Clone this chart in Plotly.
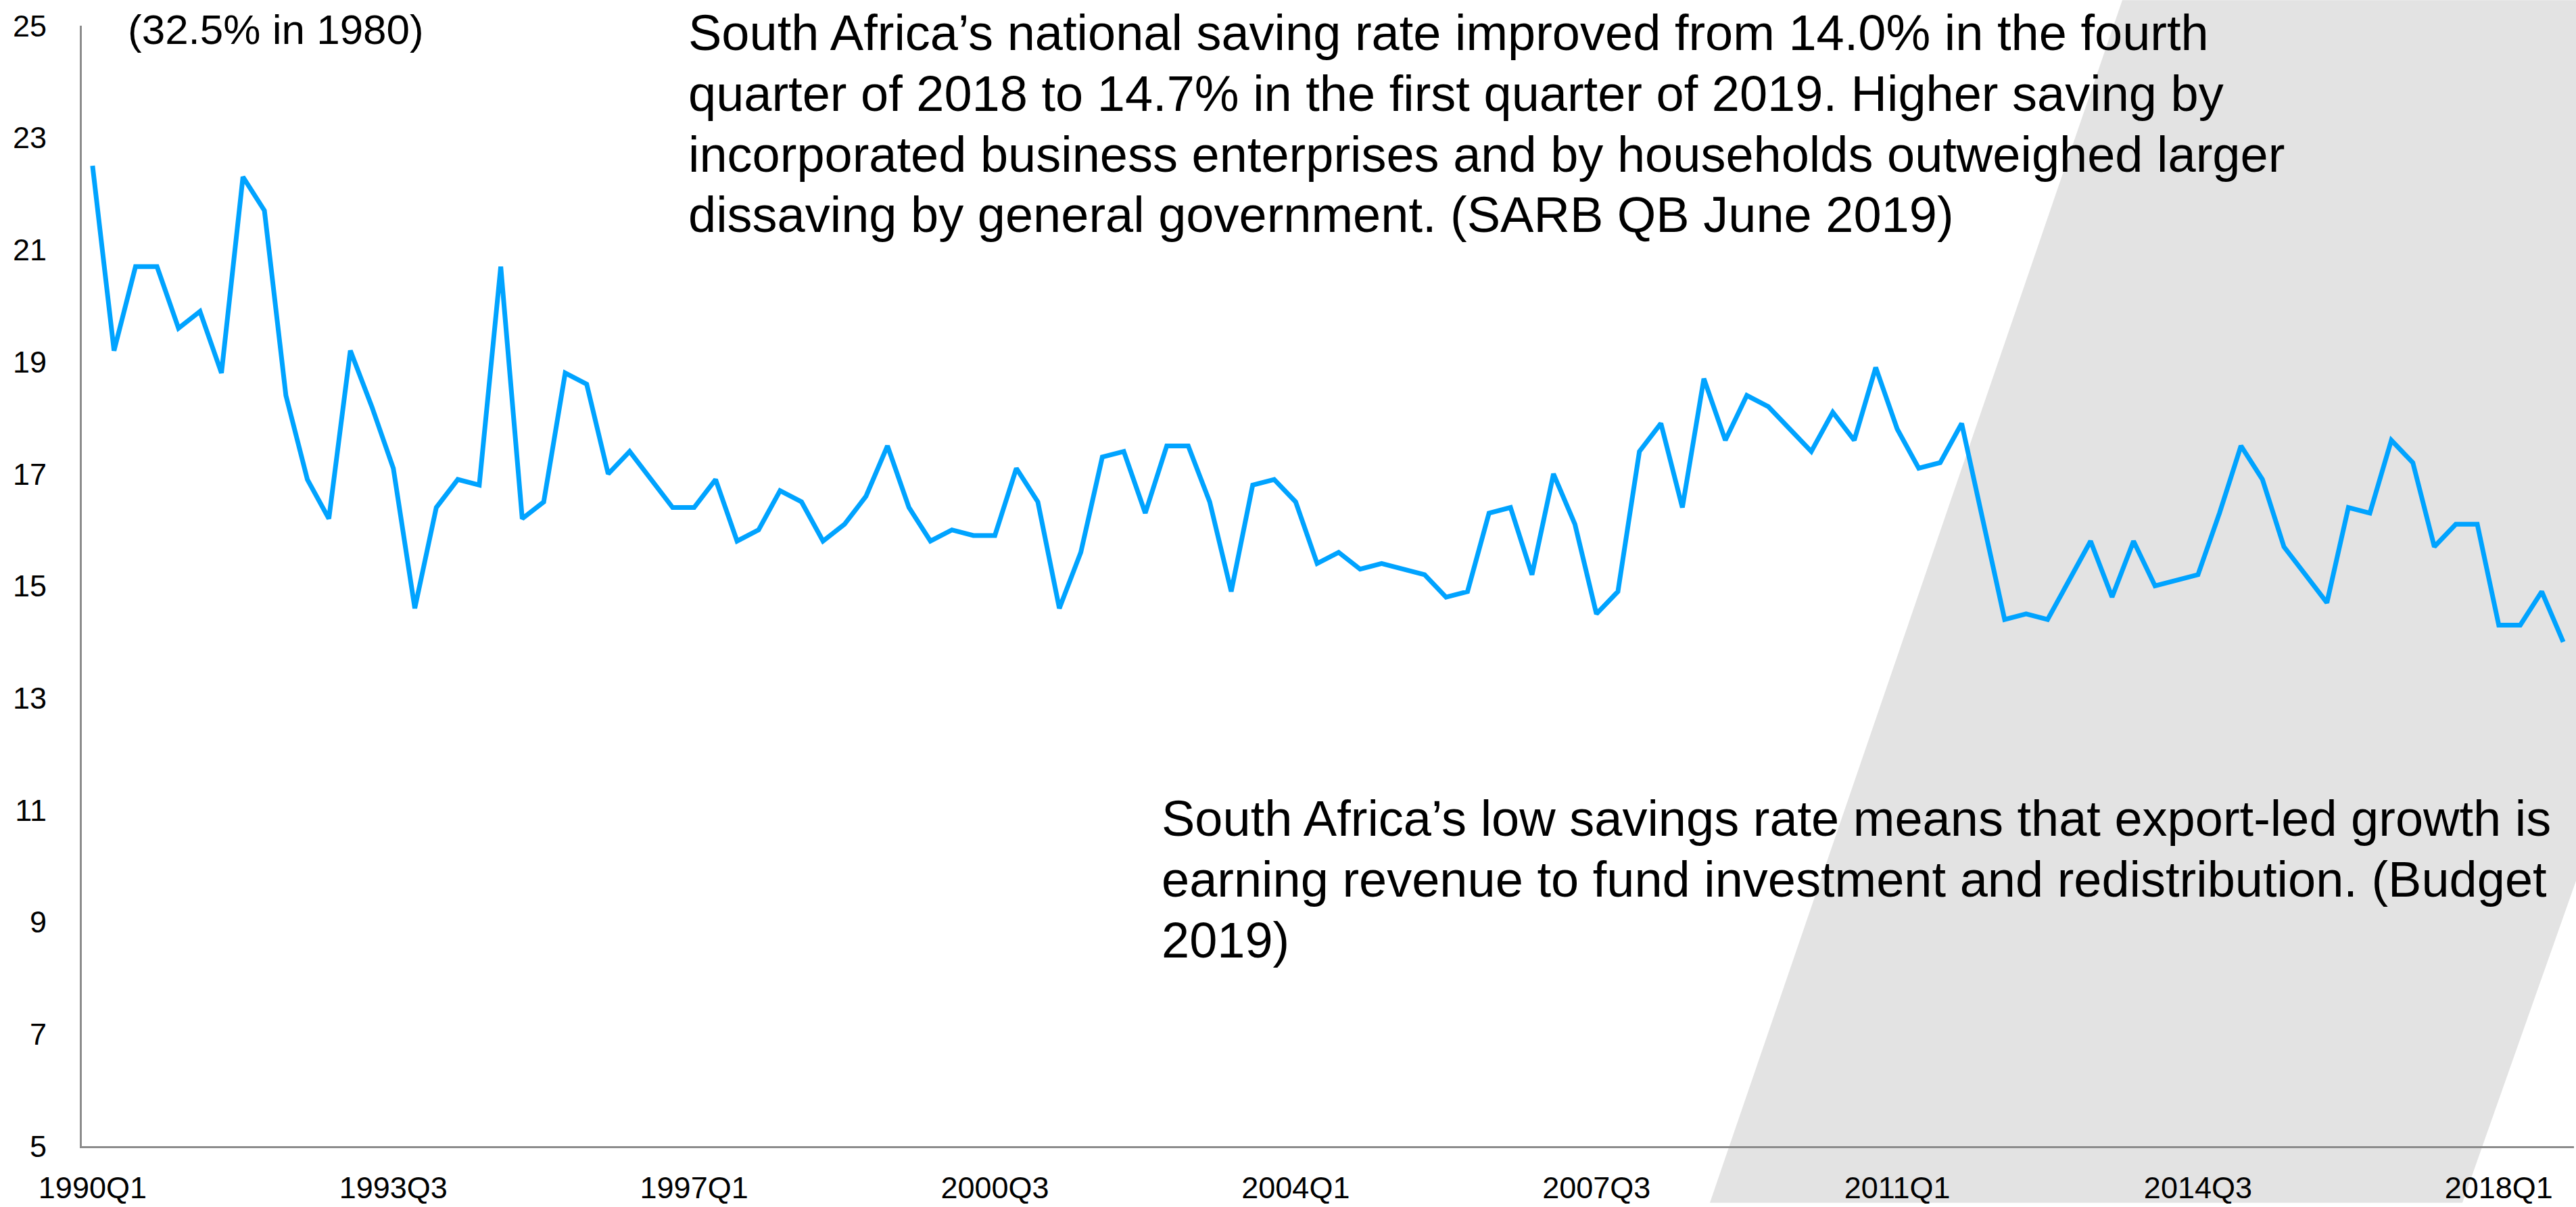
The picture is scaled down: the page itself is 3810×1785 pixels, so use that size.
import plotly.graph_objects as go

# Quarterly categories 1990Q1 .. 2018Q4
years = list(range(1990, 2019))
quarters = [f"{y}Q{q}" for y in years for q in (1, 2, 3, 4)]

# Gross national saving as % of GDP
saving_rate = [
    22.5, 19.2, 20.7, 20.7, 19.6, 19.9, 18.8, 22.3, 21.7, 18.4,
    16.9, 16.2, 19.2, 18.2, 17.1, 14.6, 16.4, 16.9, 16.8, 20.7,
    16.2, 16.5, 18.8, 18.6, 17.0, 17.4, 16.9, 16.4, 16.4, 16.9,
    15.8, 16.0, 16.7, 16.5, 15.8, 16.1, 16.6, 17.5, 16.4, 15.8,
    16.0, 15.9, 15.9, 17.1, 16.5, 14.6, 15.6, 17.3, 17.4, 16.3,
    17.5, 17.5, 16.5, 14.9, 16.8, 16.9, 16.5, 15.4, 15.6, 15.3,
    15.4, 15.3, 15.2, 14.8, 14.9, 16.3, 16.4, 15.2, 17.0, 16.1,
    14.5, 14.9, 17.4, 17.9, 16.4, 18.7, 17.6, 18.4, 18.2, 17.8,
    17.4, 18.1, 17.6, 18.9, 17.8, 17.1, 17.2, 17.9, 16.1, 14.4,
    14.5, 14.4, 15.1, 15.8, 14.8, 15.8, 15.0, 15.1, 15.2, 16.3,
    17.5, 16.9, 15.7, 15.2, 14.7, 16.4, 16.3, 17.6, 17.2, 15.7,
    16.1, 16.1, 14.3, 14.3, 14.9, 14.0,
]

tick_labels = quarters[::14]
y_ticks = list(range(5, 26, 2))

W, H = 3810, 1785
L, R, T, B = 121, 3807, 38, 1701  # plot-area edges in pixels

def px(x):
    return (x - L) / (R - L)

def py(y):
    return (B - y) / (B - T)

FONT = "Liberation Sans, Arial, sans-serif"

fig = go.Figure()
fig.add_trace(go.Scatter(
    x=quarters, y=saving_rate, mode="lines",
    line=dict(color="#00A3FF", width=7),
    hoverinfo="x+y", showlegend=False,
))

# Shaded diagonal band on the right
band = [(2529, H), (3139, 0), (W + 5, 0), (W + 5, 1293), (3642, H)]
path = "M " + " L ".join(f"{px(x):.5f},{py(y):.5f}" for x, y in band) + " Z"
fig.add_shape(type="path", path=path, xref="paper", yref="paper",
              fillcolor="#E3E3E3", line=dict(width=0), layer="below")

notes = [
    ("(32.5% in 1980)", 187, 44, 62),
    ("South Africa’s national saving rate improved from 14.0% in the fourth", 1016, 49, 74),
    ("quarter of 2018 to 14.7% in the first quarter of 2019. Higher saving by", 1016, 139, 74),
    ("incorporated business enterprises and by households outweighed larger", 1016, 229, 74),
    ("dissaving by general government. (SARB QB June 2019)", 1016, 319, 74),
    ("South Africa’s low savings rate means that export-led growth is", 1716, 1215, 74),
    ("earning revenue to fund investment and redistribution. (Budget", 1716, 1305, 74),
    ("2019)", 1716, 1395, 74),
]
for text, x, y, size in notes:
    fig.add_annotation(text=text, x=px(x), y=py(y), xref="paper", yref="paper",
                       xanchor="left", yanchor="middle", showarrow=False,
                       font=dict(family=FONT, size=size, color="#000000"))

fig.update_layout(
    width=W, height=H,
    margin=dict(l=L, r=W - R, t=T, b=H - B),
    paper_bgcolor="#FFFFFF", plot_bgcolor="rgba(0,0,0,0)",
    font=dict(family=FONT, size=45, color="#000000"),
    xaxis=dict(
        type="category", range=[-0.5, len(quarters) - 0.5],
        tickmode="array", tickvals=tick_labels, ticktext=tick_labels,
        showgrid=False, zeroline=False, showline=True,
        linecolor="#8C8C8C", linewidth=3, ticks="",
        tickfont=dict(family=FONT, size=45, color="#000000"),
        ticklabelstandoff=20,
    ),
    yaxis=dict(
        range=[5, 25], tickmode="array", tickvals=y_ticks,
        showgrid=False, zeroline=False, showline=True,
        linecolor="#8C8C8C", linewidth=3, ticks="",
        tickfont=dict(family=FONT, size=45, color="#000000"),
        ticklabelstandoff=40,
    ),
)

fig.write_html("out.html")
